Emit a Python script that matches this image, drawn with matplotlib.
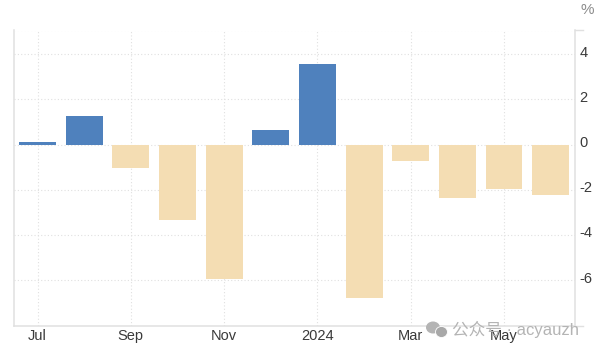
import matplotlib
matplotlib.use('Agg')
import matplotlib.pyplot as plt
from matplotlib.patches import Ellipse
from matplotlib.transforms import ScaledTranslation

months = ['Jul', 'Aug', 'Sep', 'Oct', 'Nov', 'Dec', '2024', 'Feb', 'Mar', 'Apr', 'May', 'Jun']
values = [0.12, 1.27, -1.03, -3.33, -5.94, 0.65, 3.57, -6.77, -0.72, -2.35, -1.96, -2.23]
yticks = [4, 2, 0, -2, -4, -6]
ylabels = ['4', '2', '0', '-2', '-4', '-6']

UP = '#4f81bd'
DOWN = '#f4ddb3'
GRID = '#e0e0e0'
TEXT = '#3a3a3a'

plt.rcParams['font.family'] = ['Liberation Sans', 'Noto Sans CJK SC', 'DejaVu Sans']

W, H = 600, 353
f = plt.figure(figsize=(W / 100, H / 100), dpi=100)
# axes box in pixels: x 13.5-574.5, y 30.5-326
ax = f.add_axes([13.5 / W, 1 - 326 / H, 561 / W, 295.5 / H])

x = list(range(len(values)))
colors = [UP if v >= 0 else DOWN for v in values]
ax.bar(x, values, width=0.79, color=colors, linewidth=0, zorder=3)

ax.set_xlim(-0.515, 11.51)
ax.set_ylim(-8.03, 5.05)

ax.set_xticks(x[::2])
ax.set_xticklabels(months[::2])
ax.set_yticks(yticks + [5.05])
ax.set_yticklabels(ylabels + [''])
ax.yaxis.tick_right()
ax.tick_params(axis='both', length=0, labelsize=10.5, labelcolor=TEXT)
ax.tick_params(axis='x', pad=2.5)
ax.tick_params(axis='y', pad=3.5)
ax.grid(True, color=GRID, linestyle=(0, (1, 2)), linewidth=0.8, zorder=0)
ax.set_axisbelow(True)

# the value labels sit a little above their gridlines
up = ScaledTranslation(0, 3 / 100, f.dpi_scale_trans)
for lab in ax.get_yticklabels():
    lab.set_transform(lab.get_transform() + up)

for side in ['left', 'right', 'bottom']:
    ax.spines[side].set_color(GRID)
    ax.spines[side].set_linewidth(1.1)
ax.spines['top'].set_visible(False)

# short extension of the top and bottom rules past the right axis
tr = ax.get_yaxis_transform()
for yy in ax.get_ylim():
    ax.plot([1, 1.016], [yy, yy], transform=tr, color=GRID, lw=1.0, clip_on=False)

f.text(587 / W, 1 - 10.5 / H, '%', fontsize=11, color='#8c8c8c', ha='center', va='center')

# watermark on top of the chart
wm = '#b4b4b4'
f.text(452 / W, 1 - 329.5 / H, '公众号 · acyauzh', fontsize=12, color=wm, ha='left', va='center',
       zorder=10)
over = f.add_axes([0, 0, 1, 1], facecolor='none')
over.set_xlim(0, W)
over.set_ylim(H, 0)
over.axis('off')
over.add_patch(Ellipse((433, 327.5), 14, 12, color=wm, lw=0))
over.add_patch(Ellipse((441.5, 332), 12, 11, fc='#a8a8a8', ec='white', lw=0.6))

plt.savefig('out.png', dpi=100)
